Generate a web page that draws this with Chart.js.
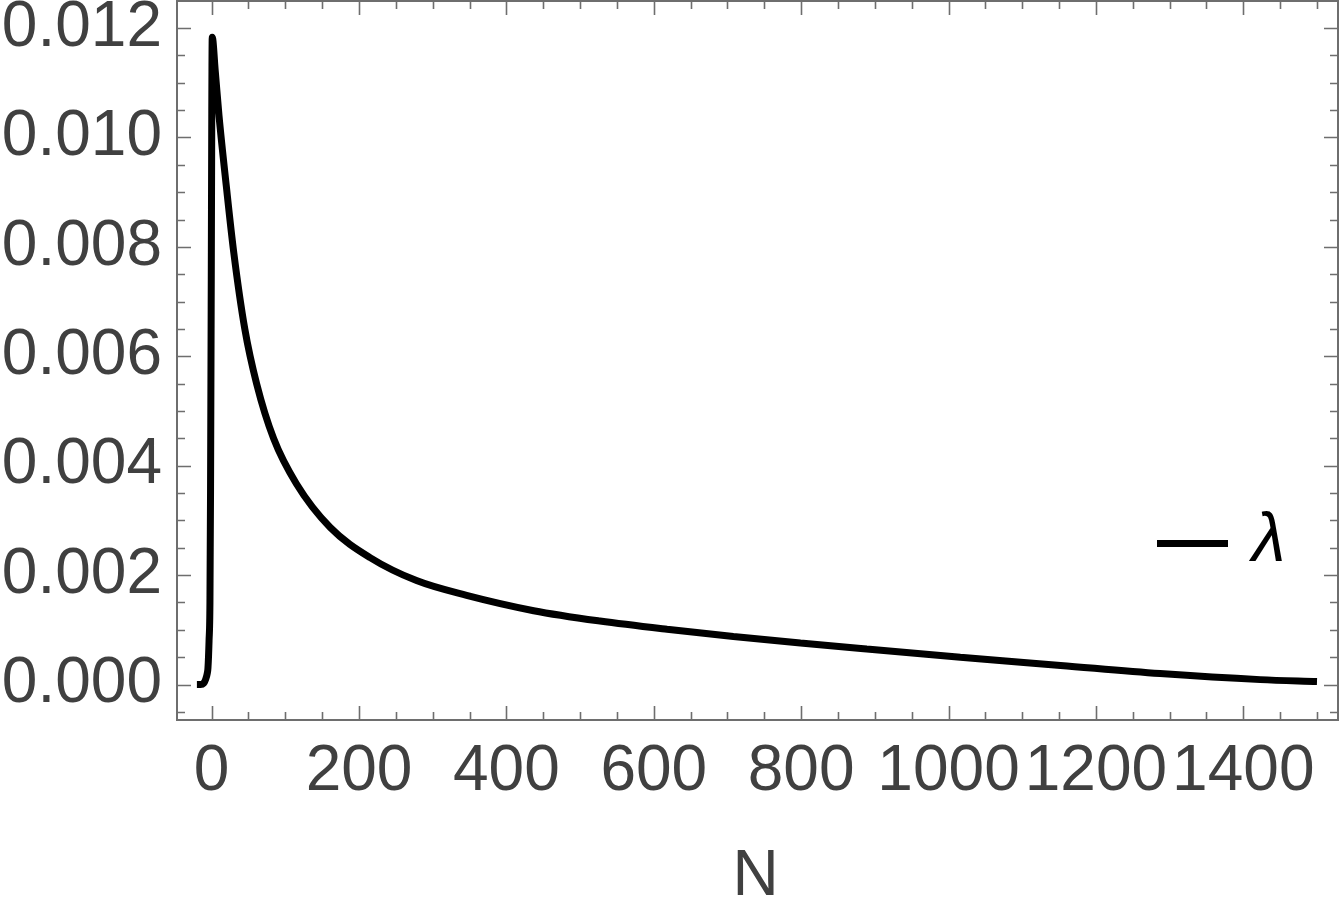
<!DOCTYPE html>
<html>
<head>
<meta charset="utf-8">
<script src="https://cdn.jsdelivr.net/npm/chart.js@4.4.1/dist/chart.umd.min.js"></script>
<style>
body { margin: 0; background: #fff; }
#wrap { width: 1342px; height: 899px; }
</style>
</head>
<body>
<div id="wrap"><canvas id="lambdaChart"></canvas></div>
<script>
// values
var nValues = [-20, -15, -11, -8, -6, -5, -3.5, -2.3, -1.5, -0.5, 0.2, 0.8, 5, 10, 20, 30, 45, 61, 84,
    115, 161, 215, 278, 346, 437, 527, 618, 708, 799, 889, 1016, 1152, 1287, 1423, 1500];
var lambdaValues = [0, 0, 0.00002, 0.0001, 0.0002, 0.0003, 0.0008, 0.0015, 0.0035, 0.0074, 0.0105, 0.01183,
    0.0112, 0.0104, 0.0091, 0.0079, 0.0065, 0.0055, 0.0045, 0.00367, 0.00287, 0.00232, 0.00190,
    0.00163, 0.00135, 0.00116, 0.00101, 0.00088, 0.00076, 0.00065, 0.0005, 0.00035, 0.0002,
    0.00009, 0.000055];

var xTickValues = [0, 200, 400, 600, 800, 1000, 1200, 1400];
var xTickLabels = ['0', '200', '400', '600', '800', '1000', '1200', '1400'];
var yTickValues = [0, 0.002, 0.004, 0.006, 0.008, 0.010, 0.012];
var yTickLabels = ['0.000', '0.002', '0.004', '0.006', '0.008', '0.010', '0.012'];
var seriesLabel = 'λ';
var xAxisTitle = 'N';

var labelFont = { family: '"Liberation Sans", Arial, sans-serif', size: 64 };
var labelColor = '#404040';
var frameColor = '#6e6e6e';

var points = nValues.map(function(n, i) {
    return { x: n, y: lambdaValues[i] };
});

// Mathematica style frame: inward ticks on all four sides, legend, axis label
var framePlugin = {
    id: 'frame',
    afterDatasetsDraw: function(chart) {
        var ctx = chart.ctx;
        var a = chart.chartArea;
        var xs = chart.scales.x;
        var ys = chart.scales.y;
        ctx.save();
        ctx.strokeStyle = frameColor;
        ctx.lineWidth = 1.6;
        ctx.beginPath();
        for (var k = -2; k <= 32; k++) {
            var xv = k * 50;
            if (xv < xs.min || xv > xs.max) continue;
            var px = Math.round(xs.getPixelForValue(xv)) + 0.5;
            var len = (k % 4 === 0) ? 14 : 8;
            ctx.moveTo(px, a.bottom); ctx.lineTo(px, a.bottom - len);
            ctx.moveTo(px, a.top); ctx.lineTo(px, a.top + len);
        }
        for (var j = -2; j <= 26; j++) {
            var yv = j * 0.0005;
            if (yv < ys.min || yv > ys.max) continue;
            var py = Math.round(ys.getPixelForValue(yv)) + 0.5;
            var ylen = (j % 4 === 0) ? 14 : 8;
            ctx.moveTo(a.left, py); ctx.lineTo(a.left + ylen, py);
            ctx.moveTo(a.right, py); ctx.lineTo(a.right - ylen, py);
        }
        ctx.stroke();
        ctx.lineWidth = 2;
        ctx.strokeRect(a.left, a.top, a.right - a.left, a.bottom - a.top);

        // legend
        ctx.strokeStyle = '#000';
        ctx.lineWidth = 7;
        ctx.beginPath();
        ctx.moveTo(a.right - 181, 543.5);
        ctx.lineTo(a.right - 110, 543.5);
        ctx.stroke();
        ctx.fillStyle = '#000';
        ctx.font = 'italic 68px "Liberation Sans", Arial, sans-serif';
        ctx.textAlign = 'left';
        ctx.textBaseline = 'alphabetic';
        ctx.fillText(seriesLabel, a.right - 86, 561);

        // x axis title
        ctx.fillStyle = labelColor;
        ctx.font = '64px "Liberation Sans", Arial, sans-serif';
        ctx.textAlign = 'center';
        ctx.fillText(xAxisTitle, (a.left + a.right) / 2 - 2, 895);
        ctx.restore();
    }
};

var ctx = document.getElementById('lambdaChart').getContext('2d');
var myChart = new Chart(ctx, {
    type: 'scatter',
    data: {
        datasets: [{
            label: seriesLabel,
            data: points,
            showLine: true,
            borderColor: '#000',
            borderWidth: 7,
            borderJoinStyle: 'bevel',
            pointRadius: 0,
            cubicInterpolationMode: 'monotone'
        }]
    },
    options: {
        responsive: true,
        maintainAspectRatio: false,
        animation: false,
        layout: {
            padding: { left: 0, top: 1, right: 4, bottom: 0 }
        },
        plugins: {
            legend: { display: false },
            tooltip: { enabled: false }
        },
        scales: {
            x: {
                type: 'linear',
                min: -47,
                max: 1528.5,
                grid: { display: false, drawTicks: false },
                border: { display: false },
                afterBuildTicks: function(scale) {
                    scale.ticks = xTickValues.map(function(v) { return { value: v }; });
                },
                afterFit: function(scale) {
                    scale.height = 179;
                    scale.paddingLeft = 0;
                    scale.paddingRight = 0;
                },
                ticks: {
                    autoSkip: false,
                    maxRotation: 0,
                    minRotation: 0,
                    padding: 14,
                    color: labelColor,
                    font: labelFont,
                    callback: function(value) {
                        var i = xTickValues.indexOf(value);
                        return i >= 0 ? xTickLabels[i] : '';
                    }
                }
            },
            y: {
                type: 'linear',
                min: -0.000648,
                max: 0.012494,
                grid: { display: false, drawTicks: false },
                border: { display: false },
                afterBuildTicks: function(scale) {
                    scale.ticks = yTickValues.map(function(v) { return { value: v }; });
                },
                afterFit: function(scale) {
                    scale.width = 177;
                    scale.paddingTop = 0;
                    scale.paddingBottom = 0;
                },
                ticks: {
                    autoSkip: false,
                    padding: 15,
                    color: labelColor,
                    font: labelFont,
                    callback: function(value) {
                        for (var i = 0; i < yTickValues.length; i++) {
                            if (Math.abs(yTickValues[i] - value) < 1e-9) return yTickLabels[i];
                        }
                        return '';
                    }
                }
            }
        }
    },
    plugins: [framePlugin]
});
</script>
</body>
</html>
